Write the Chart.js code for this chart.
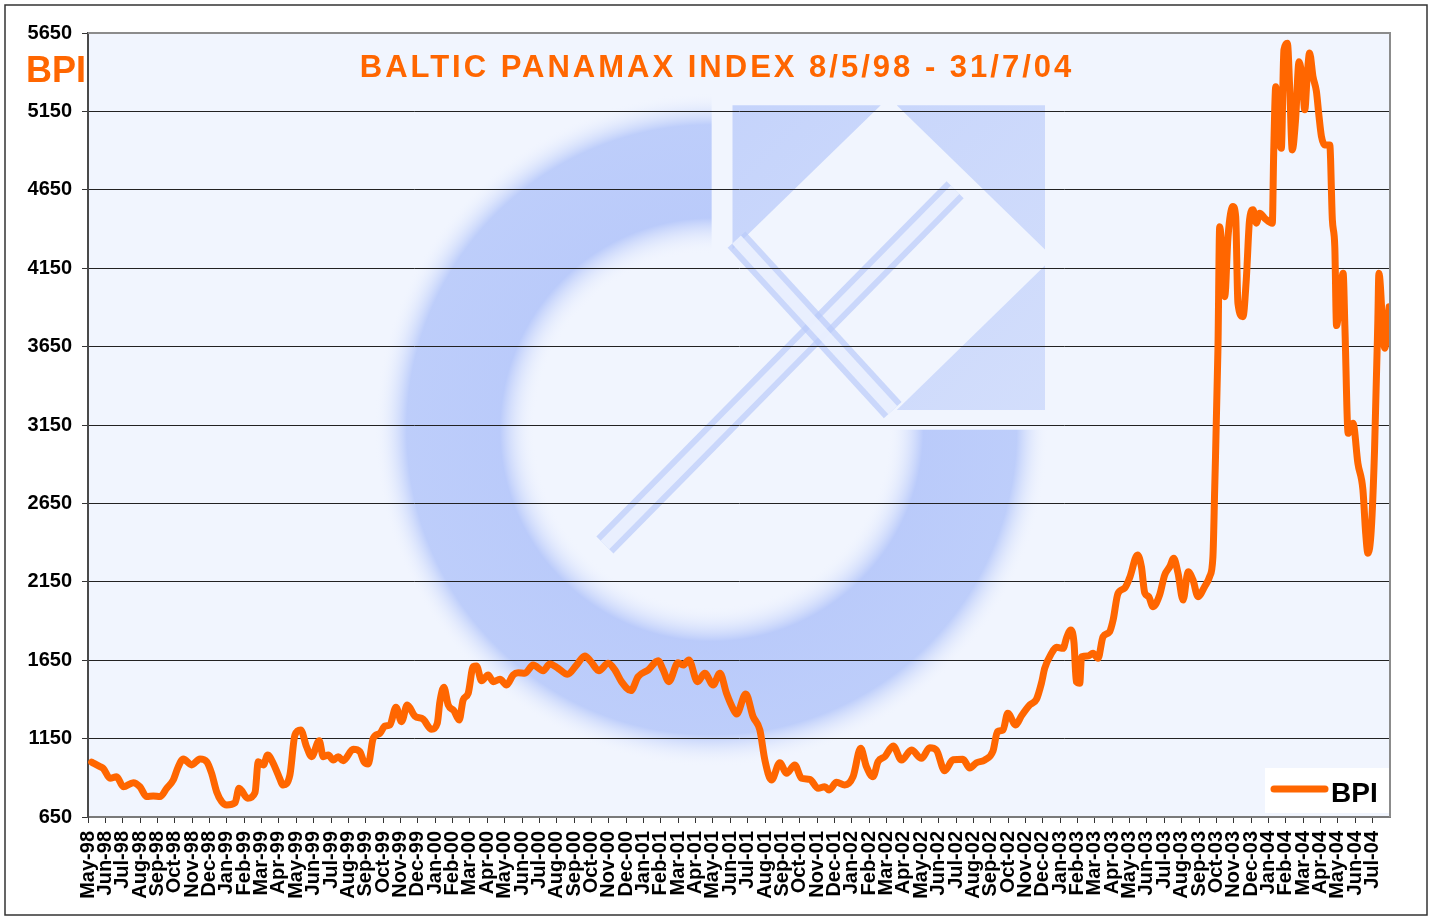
<!DOCTYPE html>
<html>
<head>
<meta charset="utf-8">
<script src="https://cdn.jsdelivr.net/npm/chart.js@4.4.0/dist/chart.umd.min.js"></script>
<style>
  body { margin: 0; background: #fff; }
  canvas { display: block; }
</style>
</head>
<body>
<canvas id="myChart" width="1435" height="917"></canvas>
<script>
// tick labels along the bottom, one per month
var monthLabels = [
  'May-98','Jun-98','Jul-98','Aug-98','Sep-98','Oct-98','Nov-98','Dec-98',
  'Jan-99','Feb-99','Mar-99','Apr-99','May-99','Jun-99','Jul-99','Aug-99','Sep-99','Oct-99','Nov-99','Dec-99',
  'Jan-00','Feb-00','Mar-00','Apr-00','May-00','Jun-00','Jul-00','Aug-00','Sep-00','Oct-00','Nov-00','Dec-00',
  'Jan-01','Feb-01','Mar-01','Apr-01','May-01','Jun-01','Jul-01','Aug-01','Sep-01','Oct-01','Nov-01','Dec-01',
  'Jan-02','Feb-02','Mar-02','Apr-02','May-02','Jun-02','Jul-02','Aug-02','Sep-02','Oct-02','Nov-02','Dec-02',
  'Jan-03','Feb-03','Mar-03','Apr-03','May-03','Jun-03','Jul-03','Aug-03','Sep-03','Oct-03','Nov-03','Dec-03',
  'Jan-04','Feb-04','Mar-04','Apr-04','May-04','Jun-04','Jul-04'
];
var yTicks = [650, 1150, 1650, 2150, 2650, 3150, 3650, 4150, 4650, 5150, 5650];

// time of each reading, in months since 1 May 1998
var bpiT = [
  0.21,0.69,0.88,1.27,1.65,2.03,2.61,2.99,3.38,3.76,
  4.15,4.53,4.91,5.20,5.49,5.97,6.45,6.84,7.12,7.41,
  7.70,7.99,8.47,8.70,9.20,9.62,9.81,10.10,10.35,10.67,
  10.96,11.25,11.63,11.92,12.25,12.59,12.88,13.32,13.55,13.84,
  14.13,14.41,14.70,15.28,15.66,15.89,16.14,16.43,16.82,17.10,
  17.39,17.74,18.06,18.39,18.83,19.31,19.79,20.12,20.27,20.50,
  20.75,21.08,21.38,21.61,21.90,22.19,22.38,22.67,23.05,23.34,
  23.73,24.11,24.49,24.78,25.17,25.64,26.22,26.60,27.08,27.62,
  28.14,28.62,28.97,29.43,29.96,30.35,30.73,31.27,31.69,32.27,
  32.84,33.13,33.46,33.99,34.28,34.61,35.11,35.53,36.01,36.40,
  36.78,37.16,37.36,37.89,38.31,38.70,38.99,39.37,39.85,40.24,
  40.71,41.10,41.58,42.06,42.44,42.69,43.12,43.59,44.07,44.51,
  44.84,45.22,45.51,45.90,46.38,46.86,47.43,48.01,48.49,48.87,
  49.35,49.83,50.40,50.79,51.18,51.65,52.13,52.39,52.71,52.98,
  53.44,53.77,54.25,54.63,54.92,55.11,55.50,55.79,56.17,56.36,
  56.61,56.80,56.93,57.13,57.23,57.60,57.89,58.18,58.47,58.85,
  59.05,59.33,59.72,60.00,60.46,60.68,60.87,61.10,61.35,61.73,
  62.02,62.31,62.54,62.79,63.08,63.37,63.65,63.94,64.32,64.61,
  64.80,64.90,65.09,65.19,65.48,65.67,65.95,66.11,66.24,66.53,
  66.72,66.91,67.11,67.30,67.49,67.78,68.22,68.30,68.42,68.55,
  68.74,68.89,69.09,69.22,69.37,69.56,69.76,69.95,70.09,70.24,
  70.37,70.56,70.76,70.91,71.05,71.24,71.53,71.68,71.82,71.92,
  72.11,72.30,72.40,72.59,72.87,73.15,73.44,73.60,73.73,73.92,
  74.11,74.30,74.36,74.69,74.95
];
// Baltic Panamax Index values
var bpiV = [
  1000,971,960,897,907,843,869,843,780,784,
  780,833,886,971,1020,982,1020,1003,929,811,
  748,727,741,833,769,805,1003,982,1045,992,
  918,854,918,1173,1205,1098,1035,1137,1035,1045,
  1013,1035,1009,1082,1067,1003,988,1152,1184,1230,
  1237,1350,1258,1364,1294,1273,1209,1248,1385,1477,
  1364,1328,1269,1396,1439,1609,1613,1519,1556,1513,
  1528,1492,1556,1570,1567,1619,1583,1626,1598,1560,
  1619,1677,1641,1583,1630,1588,1513,1456,1545,1588,
  1647,1588,1513,1634,1619,1651,1513,1567,1492,1567,
  1439,1340,1307,1435,1290,1205,1013,886,996,929,
  982,897,890,833,843,822,871,854,907,1088,
  971,907,1003,1035,1103,1013,1077,1024,1092,1077,
  945,1015,1018,962,996,1013,1070,1194,1205,1311,
  1237,1295,1365,1400,1503,1598,1694,1732,1726,1790,
  1843,1758,1513,1503,1672,1677,1694,1662,1800,1832,
  1906,2076,2110,2175,2321,2246,2080,2055,1991,2066,
  2193,2246,2300,2204,2034,2214,2162,2055,2119,2183,
  2310,2735,3640,4415,3968,4352,4543,4479,3926,3841,
  4075,4458,4522,4437,4501,4469,4437,4883,5308,5053,
  4915,5542,5584,5308,4904,5096,5466,5350,5160,5395,
  5523,5374,5278,5119,4991,4936,4936,4458,4288,3784,
  3947,4118,3784,3097,3161,2906,2736,2458,2332,2480,
  2991,3820,4118,3640,3904
];

var chartTitle = 'BALTIC PANAMAX INDEX 8/5/98 - 31/7/04';
var axisTitle = 'BPI';
var orange = '#FF6600';
var FONT = '"Liberation Sans", Arial, sans-serif';

//plot background and the faint logo behind the line
var backdrop = {
  id: 'backdrop',
  beforeDraw: function(chart) {
    var ctx = chart.ctx, a = chart.chartArea;
    var w = a.right - a.left, h = a.bottom - a.top;
    ctx.save();
    ctx.fillStyle = '#F1F5FE';
    ctx.fillRect(a.left, a.top, w, h);

    ctx.beginPath();
    ctx.rect(a.left, a.top, w, h);
    ctx.clip();

    // the C ring
    var cx = a.left + w * 0.479, cy = a.top + h * 0.506;
    var ro = h * 0.43, ri = h * 0.225;
    var g = ctx.createRadialGradient(cx, cy, ri, cx, cy, ro);
    g.addColorStop(0, 'rgba(241,245,254,0)');
    g.addColorStop(0.22, 'rgba(180,198,250,0.9)');
    g.addColorStop(0.8, 'rgba(182,200,250,0.88)');
    g.addColorStop(1, 'rgba(241,245,254,0)');
    ctx.beginPath();
    ctx.arc(cx, cy, ro, 0, 1.5 * Math.PI);
    ctx.lineTo(cx, cy - ri);
    ctx.arc(cx, cy, ri, 1.5 * Math.PI, 0, true);
    ctx.closePath();
    ctx.fillStyle = g;
    ctx.fill();

    // square part of the logo
    var L = a.left + w * 0.495, R = a.left + w * 0.735;
    var T = a.top + h * 0.092, B = a.top + h * 0.481;
    var mx = (L + R) / 2, my = (T + B) / 2, gap = 8;
    var sg = ctx.createLinearGradient(L, T, R, B);
    sg.addColorStop(0, 'rgba(182,200,250,0.75)');
    sg.addColorStop(1, 'rgba(190,206,250,0.6)');
    ctx.fillStyle = sg;
    [[[L, T], [mx - gap, T], [L, my - gap]],
     [[mx + gap, T], [R, T], [R, my - gap]],
     [[R, my + gap], [R, B], [mx + gap, B]]].forEach(function(tri) {
      ctx.beginPath();
      ctx.moveTo(tri[0][0], tri[0][1]);
      ctx.lineTo(tri[1][0], tri[1][1]);
      ctx.lineTo(tri[2][0], tri[2][1]);
      ctx.closePath();
      ctx.fill();
    });

    // arrow shaft and diamond edge
    function bar(x0, y0, x1, y1) {
      ctx.lineCap = 'butt';
      ctx.beginPath();
      ctx.moveTo(x0, y0); ctx.lineTo(x1, y1);
      ctx.strokeStyle = 'rgba(185,202,250,0.7)';
      ctx.lineWidth = 24;
      ctx.stroke();
      ctx.strokeStyle = 'rgba(236,242,254,0.9)';
      ctx.lineWidth = 12;
      ctx.stroke();
    }
    bar(a.left + w * 0.397, a.top + h * 0.653, a.left + w * 0.666, a.top + h * 0.2);
    bar(L + 4, my - 18, mx + 4, B);
    ctx.restore();
  }
};

// title, side label, legend and frame
var overlay = {
  id: 'overlay',
  afterDraw: function(chart) {
    var ctx = chart.ctx, a = chart.chartArea;
    ctx.save();
    // plot frame
    ctx.strokeStyle = '#8c8c8c';
    ctx.lineWidth = 2;
    ctx.beginPath();
    ctx.moveTo(a.left, a.top); ctx.lineTo(a.right, a.top); ctx.lineTo(a.right, a.bottom);
    ctx.stroke();

    // title inside the plot
    ctx.fillStyle = orange;
    ctx.font = 'bold 31px ' + FONT;
    ctx.textAlign = 'center';
    ctx.textBaseline = 'alphabetic';
    ctx.letterSpacing = '3px';
    ctx.fillText(chartTitle, 717, 77);
    ctx.letterSpacing = '0px';

    ctx.textAlign = 'left';
    ctx.font = 'bold 36px ' + FONT;
    ctx.fillText(axisTitle, 26, 82);

    // legend box
    var lx = a.right - 125, ly = a.bottom - 49;
    ctx.fillStyle = '#ffffff';
    ctx.fillRect(lx, ly, 124, 45);
    ctx.strokeStyle = orange;
    ctx.lineWidth = 7;
    ctx.lineCap = 'round';
    ctx.beginPath();
    ctx.moveTo(lx + 9, ly + 21); ctx.lineTo(lx + 60, ly + 21);
    ctx.stroke();
    ctx.fillStyle = '#000';
    ctx.font = 'bold 28px ' + FONT;
    ctx.fillText(chart.data.datasets[0].label, lx + 66, ly + 34);

    // outer border
    ctx.strokeStyle = '#333';
    ctx.lineWidth = 1.5;
    ctx.strokeRect(5, 5, 1422, 910);
    ctx.restore();
  }
};

var myChart = new Chart(document.getElementById('myChart'), {
  type: 'line',
  data: {
    datasets: [{
      label: 'BPI',
      data: bpiT.map(function(t, i) { return { x: t, y: bpiV[i] }; }),
      borderColor: orange,
      backgroundColor: orange,
      borderWidth: 7,
      pointRadius: 0,
      fill: false,
      cubicInterpolationMode: 'monotone',
      borderJoinStyle: 'round',
      borderCapStyle: 'round'
    }]
  },
  options: {
    responsive: false,
    animation: false,
    devicePixelRatio: 1,
    layout: { padding: { left: 0, top: 33, right: 45, bottom: 0 } },
    plugins: {
      legend: { display: false },
      tooltip: { enabled: false },
      title: { display: false }
    },
    scales: {
      x: {
        type: 'linear',
        min: 0,
        max: 75,
        afterBuildTicks: function(scale) {
          scale.ticks = monthLabels.map(function(_, i) { return { value: i }; });
        },
        afterFit: function(scale) { scale.height = 100; },
        ticks: {
          autoSkip: false,
          minRotation: 90,
          maxRotation: 90,
          padding: 8,
          color: '#000',
          font: { family: FONT, size: 20, weight: 'bold' },
          callback: function(v) { return monthLabels[v]; }
        },
        grid: { drawOnChartArea: false, drawTicks: true, tickLength: 6, color: '#333' },
        border: { display: true, color: '#7a7a7a', width: 2 }
      },
      y: {
        min: 650,
        max: 5650,
        afterBuildTicks: function(scale) {
          scale.ticks = yTicks.map(function(v) { return { value: v }; });
        },
        afterFit: function(scale) { scale.width = 88; },
        ticks: {
          padding: 10,
          color: '#000',
          font: { family: FONT, size: 20, weight: 'bold' },
          callback: function(v) { return String(v); }
        },
        grid: { color: '#222', lineWidth: 1, tickLength: 6, tickColor: '#333' },
        border: { display: true, color: '#4a4a4a', width: 2 }
      }
    }
  },
  plugins: [backdrop, overlay]
});
</script>
</body>
</html>
